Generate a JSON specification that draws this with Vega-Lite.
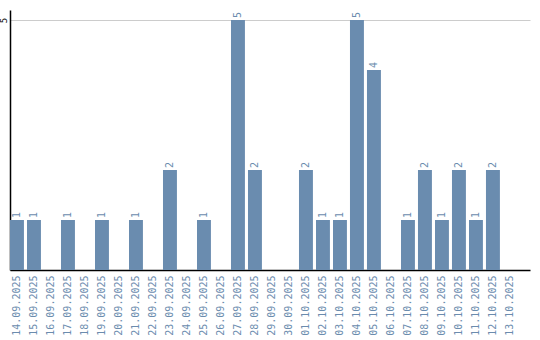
{
  "$schema": "https://vega.github.io/schema/vega-lite/v6.json",
  "autosize": "none",
  "width": 520,
  "height": 260,
  "padding": {"left": 10, "top": 10, "right": 10, "bottom": 70},
  "background": "white",
  "config": {"view": {"stroke": null}, "font": "DejaVu Sans Mono"},
  "data": {"values": [
    {"d": "14.09.2025", "v": 1}, {"d": "15.09.2025", "v": 1}, {"d": "16.09.2025", "v": 0},
    {"d": "17.09.2025", "v": 1}, {"d": "18.09.2025", "v": 0}, {"d": "19.09.2025", "v": 1},
    {"d": "20.09.2025", "v": 0}, {"d": "21.09.2025", "v": 1}, {"d": "22.09.2025", "v": 0},
    {"d": "23.09.2025", "v": 2}, {"d": "24.09.2025", "v": 0}, {"d": "25.09.2025", "v": 1},
    {"d": "26.09.2025", "v": 0}, {"d": "27.09.2025", "v": 5}, {"d": "28.09.2025", "v": 2},
    {"d": "29.09.2025", "v": 0}, {"d": "30.09.2025", "v": 0}, {"d": "01.10.2025", "v": 2},
    {"d": "02.10.2025", "v": 1}, {"d": "03.10.2025", "v": 1}, {"d": "04.10.2025", "v": 5},
    {"d": "05.10.2025", "v": 4}, {"d": "06.10.2025", "v": 0}, {"d": "07.10.2025", "v": 1},
    {"d": "08.10.2025", "v": 2}, {"d": "09.10.2025", "v": 1}, {"d": "10.10.2025", "v": 2},
    {"d": "11.10.2025", "v": 1}, {"d": "12.10.2025", "v": 2}, {"d": "13.10.2025", "v": 0}
  ]},
  "encoding": {
    "x": {
      "field": "d", "type": "nominal", "sort": null,
      "scale": {"paddingInner": 0.18, "paddingOuter": 0.385, "align": 0},
      "axis": {"title": null, "labelAngle": -90, "labelColor": "#6b8cae", "labelFontSize": 10,
               "ticks": false, "labelPadding": 5, "domainColor": "black", "domainWidth": 1.5}
    },
    "y": {
      "field": "v", "type": "quantitative",
      "scale": {"domain": [0, 5.2], "nice": false},
      "axis": {"title": null, "values": [5], "labelAngle": -90, "labelFontSize": 9, "labelColor": "black",
               "ticks": false, "labelPadding": 2, "grid": true, "gridColor": "#cccccc",
               "domainColor": "black", "domainWidth": 1.5, "labelAlign": "center", "labelBaseline": "bottom"}
    }
  },
  "layer": [
    {"mark": {"type": "bar", "color": "#6a8caf"}},
    {"transform": [{"filter": "datum.v > 0"}],
     "mark": {"type": "text", "angle": -90, "align": "left", "baseline": "middle", "dx": 2, "fontSize": 10, "color": "#6b8cae"},
     "encoding": {"text": {"field": "v", "type": "quantitative"}}}
  ]
}
